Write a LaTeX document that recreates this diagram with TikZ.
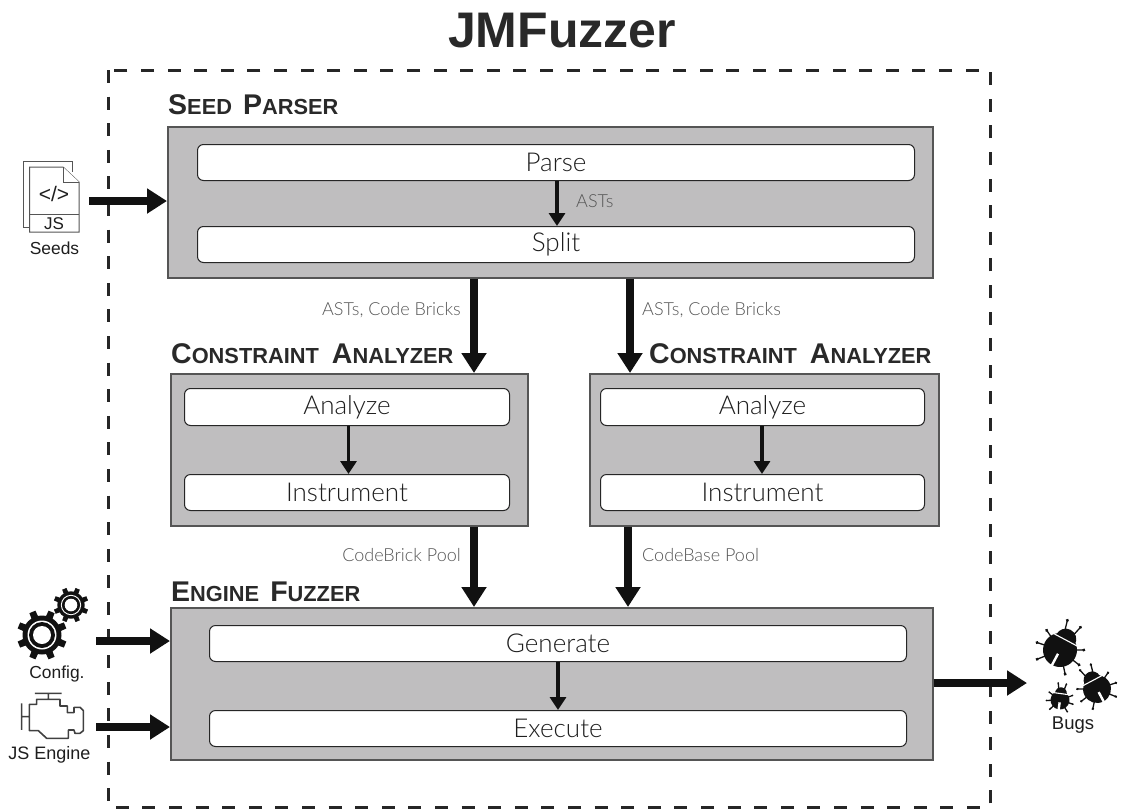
\documentclass[tikz,border=0pt]{standalone}
\usepackage{fontspec}
\setmainfont{Liberation Sans}
\newfontfamily\lightf{Lato Light}
\usetikzlibrary{arrows.meta,calc}
\definecolor{boxgray}{HTML}{BFBEBF}
\definecolor{edgegray}{HTML}{555555}
\definecolor{txt}{HTML}{1E1E1E}
\definecolor{lbl}{HTML}{555555}
\definecolor{ink}{HTML}{111111}
\newcommand{\capsA}[1]{{\fontsize{28.5}{29}\selectfont #1}}
\newcommand{\capsB}[1]{{\fontsize{21.8}{29}\selectfont #1}}
\newcommand{\bugicon}[4]{%
 \begin{scope}[shift={(#1,#2)},rotate=#4,xscale=#3,yscale=-#3]
  \foreach \a/\l in {-14/1.8,14/1.8,-62/1.4,62/1.4,-100/1.42,100/1.42,-140/1.45,140/1.45}{
    \draw[ink,line width=1.3pt] (0,0) -- ({90+\a}:{\l});
    \fill[ink] ({90+\a}:{\l}) circle (0.1);
  }
  \fill[ink] (0,0.72) circle (0.62);
  \fill[ink] (0,0) circle (1);
  \draw[white,line width=1.1pt] (-1,0.68) -- (1,0.68);
  \draw[white,line width=2.4pt] (0,-1.05) -- (0,-0.25);
 \end{scope}}
\newcommand{\gearicon}[4]{%
 \begin{scope}[shift={(#1,#2)}]
  \foreach \a in {0,45,...,315}{
    \fill[ink,rotate=\a+22.5] (-0.17*#3,0) -- (-0.13*#3,#3) -- (0.13*#3,#3) -- (0.17*#3,0) -- cycle;
  }
  \fill[ink] (0,0) circle ({0.78*#3});
  \fill[white] (0,0) circle ({0.58*#3});
  \fill[ink] (0,0) circle ({0.52*#3});
  \fill[white] (0,0) circle ({#4*#3});
 \end{scope}}
\tikzset{
  outerbox/.style={draw=edgegray,fill=boxgray,line width=1.5pt,inner sep=0pt,anchor=north west},
  innerbox/.style={draw=black!85,fill=white,line width=1pt,rounded corners=6pt,inner sep=0pt,anchor=north west,
     text=txt,font=\lightf\fontsize{26}{26}\selectfont},
  fat/.style={draw=ink,line width=7.2pt,-{Triangle[length=20pt,width=24pt]}},
  thin/.style={draw=ink,line width=3.6pt,-{Triangle[length=13pt,width=16pt]}},
  heading/.style={anchor=base west,inner sep=0pt,text=ink!90!white,font=\bfseries},
  smalllabel/.style={inner sep=0pt,text=lbl,font=\lightf\fontsize{18}{18}\selectfont},
  iconlabel/.style={inner sep=0pt,text=txt,font=\fontsize{17.4}{18}\selectfont},
  icon/.style={draw=edgegray,line width=1pt,fill=white}
}
\begin{document}
\begin{tikzpicture}[x=1pt,y=-1pt]
\useasboundingbox (0,0) rectangle (1122,809);
\node[inner sep=0pt,font=\bfseries\fontsize{50}{50}\selectfont,text=ink!90!white] (title) at (562,31) {JMFuzzer};
\draw[line width=3pt,draw=black!85,dash pattern=on 13pt off 13.6pt] (108,70) rectangle (990,807);

% outer boxes
\node[outerbox,minimum width=765pt,minimum height=151pt] (seed) at (167,126) {};
\node[outerbox,minimum width=357pt,minimum height=152pt] (cal) at (170,373) {};
\node[outerbox,minimum width=349pt,minimum height=152pt] (car) at (589,373) {};
\node[outerbox,minimum width=762pt,minimum height=152pt] (eng) at (170,607) {};
% inner boxes
\node[innerbox,minimum width=717pt,minimum height=36pt] (parse) at (197,144) {Parse};
\node[innerbox,minimum width=717pt,minimum height=36pt] (split) at (197,226) {Split};
\node[innerbox,minimum width=325pt,minimum height=37pt] (an1) at (184,388) {Analyze};
\node[innerbox,minimum width=325pt,minimum height=36pt] (in1) at (184,474) {Instrument};
\node[innerbox,minimum width=324pt,minimum height=37pt] (an2) at (600,388) {Analyze};
\node[innerbox,minimum width=324pt,minimum height=36pt] (in2) at (600,474) {Instrument};
\node[innerbox,minimum width=697pt,minimum height=36pt] (gen) at (209,625) {Generate};
\node[innerbox,minimum width=697pt,minimum height=36pt] (exe) at (209,710) {Execute};
% headings
\node[heading] (h1) at (168,114) {\capsA{S}\capsB{EED}\hspace{11pt}\capsA{P}\capsB{ARSER}};
\node[heading] (h2) at (171,363) {\capsA{C}\capsB{ONSTRAINT}\hspace{13pt}\capsA{A}\capsB{NALYZER}};
\node[heading] (h3) at (649,363) {\capsA{C}\capsB{ONSTRAINT}\hspace{13pt}\capsA{A}\capsB{NALYZER}};
\node[heading] (h4) at (171,601) {\capsA{E}\capsB{NGINE}\hspace{11pt}\capsA{F}\capsB{UZZER}};

% free-end coordinates
\coordinate (xa) at (474,0);
\coordinate (xb) at (630,0);
\coordinate (xc) at (628,0);
\coordinate (xd) at (557,0);
\coordinate (xe) at (348.5,0);
\coordinate (xf) at (762,0);
\coordinate (s0) at (89,201);
\coordinate (c0) at (96,641);
\coordinate (j0) at (96,727);
\coordinate (b0) at (1027,683);
% connectors
\draw[thin] (parse.south -| xd) -- (split.north -| xd);
\draw[thin] (an1.south -| xe) -- (in1.north -| xe);
\draw[thin] (an2.south -| xf) -- (in2.north -| xf);
\draw[thin] (gen.south) -- (exe.north);
\draw[fat] (seed.south -| xa) -- (cal.north -| xa);
\draw[fat] (seed.south -| xb) -- (car.north -| xb);
\draw[fat] (cal.south -| xa) -- (eng.north -| xa);
\draw[fat] (car.south -| xc) -- (eng.north -| xc);
\draw[fat] (s0) -- (seed.west |- s0);
\draw[fat] (c0) -- (eng.west |- c0);
\draw[fat] (j0) -- (eng.west |- j0);
\draw[fat] (eng.east |- b0) -- (b0);

% connector labels
\node[smalllabel,anchor=west] (l0) at (576,201) {ASTs};
\node[smalllabel,anchor=east] (l1) at (461,310) {ASTs, Code Bricks};
\node[smalllabel,anchor=west] (l2) at (642,310) {ASTs, Code Bricks};
\node[smalllabel,anchor=east] (l3) at (461,555) {CodeBrick Pool};
\node[smalllabel,anchor=west] (l4) at (642,555) {CodeBase Pool};

% seeds icon
\draw[icon] (29,227.5) -- (23.5,227.5) -- (23.5,161) -- (72.5,161) -- (72.5,172);
\draw[icon] (29.5,167) -- (63,167) -- (79,182) -- (79,232) -- (29.5,232) -- cycle;
\draw[icon] (63,167) -- (63,182) -- (79,182);
\draw[edgegray,line width=1pt] (29.5,214) -- (79,214);
\node[inner sep=0pt,text=txt,font=\fontsize{21}{21}\selectfont] (code) at (54,194) {</>};
\node[inner sep=0pt,text=txt,font=\fontsize{17}{17}\selectfont] (js) at (54,223.5) {JS};
\node[iconlabel] (seedl) at (54.5,248) {Seeds};

% config icon
\gearicon{42}{635}{25}{0.36}
\gearicon{71}{605}{17.5}{0.36}
\node[iconlabel] (cfg) at (57,674) {Config.};

% JS engine icon
\begin{scope}[shift={(0,570)},x=0.3333pt,y=-0.3333pt]
 \draw[black!75,line width=1.6pt,line join=round]
  (65,400) -- (65,480) (65,440) -- (88,440)
  (105,370) -- (185,370) (145,370) -- (145,388)
  (88,403) -- (110,403) -- (110,388) -- (180,388) -- (180,408) -- (202,408) -- (202,428) -- (222,428)
  -- (222,412) -- (240,412) -- (250,422) -- (250,482) -- (240,490) -- (225,490) -- (222,480) -- (205,480)
  -- (205,505) -- (140,505) -- (115,482) -- (88,482) -- cycle;
\end{scope}
\node[iconlabel,font=\fontsize{18}{18}\selectfont] (jse) at (49.5,755) {JS Engine};

% bugs icon
\bugicon{1060}{650}{17}{-28}
\bugicon{1097}{689}{14}{28}
\bugicon{1060}{700}{9.5}{-8}
\node[iconlabel,font=\fontsize{18.5}{18}\selectfont] (bugl) at (1073,725) {Bugs};
\end{tikzpicture}
\end{document}
